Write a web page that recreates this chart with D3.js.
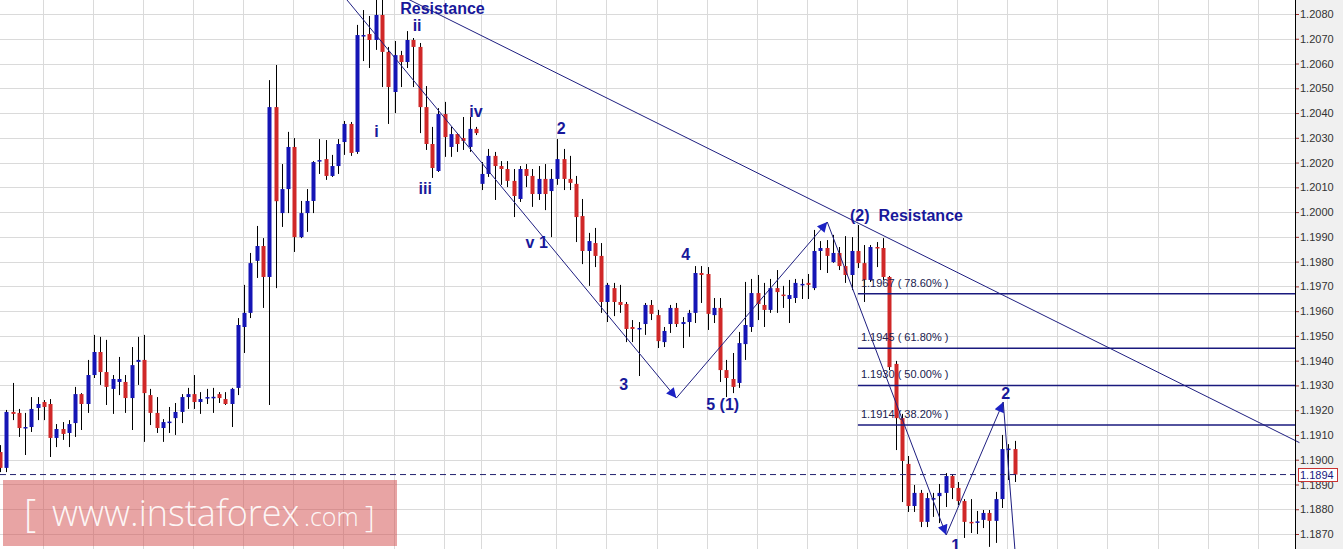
<!DOCTYPE html>
<html><head><meta charset="utf-8">
<script src="https://cdn.jsdelivr.net/npm/d3@7"></script>
<style>html,body{margin:0;padding:0;background:#fff;overflow:hidden}</style>
</head><body><svg id="chart" width="1343" height="549"></svg>
<script>
// ---------- DATA ----------
const opens = [1.19031,1.18967,1.19193,1.19189,1.19128,1.19132,1.19209,1.19233,1.19225,1.19088,
1.19124,1.19108,1.19148,1.19265,1.19225,1.19342,1.19435,1.19354,1.19286,1.19314,
1.19314,1.19249,1.19395,1.19403,1.19261,1.19189,1.19128,1.19152,1.19168,1.19193,
1.19253,1.19265,1.19233,1.19251,1.19253,1.19265,1.19245,1.19225,1.19290,1.19536,
1.19593,1.19803,1.19863,1.19738,1.20424,1.19996,1.20093,1.20263,1.19899,1.19996,
1.20045,1.20208,1.20214,1.20146,1.20186,1.20283,1.20356,1.20243,1.20713,1.20719,
1.20695,1.20796,1.20647,1.20485,1.20634,1.20606,1.20695,1.20667,1.20424,1.20275,
1.20166,1.20396,1.20263,1.20315,1.20299,1.20263,1.20336,1.20114,1.20154,1.20227,
1.20186,1.20174,1.20126,1.20053,1.20174,1.20146,1.20073,1.20134,1.20085,1.20134,
1.20214,1.20134,1.20114,1.19984,1.19843,1.19875,1.19823,1.19637,1.19693,1.19637,
1.19629,1.19536,1.19528,1.19548,1.19625,1.19584,1.19475,1.19548,1.19613,1.19548,
1.19556,1.19593,1.19754,1.19750,1.19584,1.19613,1.19362,1.19326,1.19310,1.19467,
1.19536,1.19673,1.19625,1.19605,1.19693,1.19667,1.19649,1.19653,1.19708,1.19714,
1.19693,1.19843,1.19855,1.19798,1.19835,1.19782,1.19746,1.19843,1.19794,1.19726,
1.19859,1.19855,1.19738,1.19387,1.19168,1.18983,1.18813,1.18866,1.18749,1.18843,
1.18853,1.18866,1.18934,1.18886,1.18833,1.18749,1.18749,1.18757,1.18785,1.18753,
1.18841,1.19043,1.19043];
const highs = [1.19059,1.19201,1.19310,1.19205,1.19189,1.19253,1.19253,1.19241,1.19245,1.19144,
1.19152,1.19160,1.19294,1.19269,1.19403,1.19504,1.19496,1.19484,1.19342,1.19415,
1.19342,1.19455,1.19496,1.19504,1.19286,1.19253,1.19164,1.19213,1.19229,1.19265,
1.19290,1.19342,1.19273,1.19286,1.19290,1.19273,1.19273,1.19290,1.19572,1.19706,
1.19835,1.19944,1.19895,1.20533,1.20594,1.20194,1.20324,1.20299,1.20045,1.20093,
1.20206,1.20295,1.20291,1.20231,1.20295,1.20368,1.20364,1.20756,1.20816,1.20792,
1.20870,1.20880,1.20667,1.20691,1.20651,1.20731,1.20703,1.20683,1.20509,1.20344,
1.20420,1.20445,1.20344,1.20319,1.20384,1.20384,1.20344,1.20202,1.20255,1.20243,
1.20206,1.20206,1.20174,1.20186,1.20194,1.20174,1.20186,1.20194,1.20174,1.20295,
1.20255,1.20227,1.20146,1.20053,1.19916,1.19936,1.19875,1.19714,1.19714,1.19706,
1.19637,1.19564,1.19556,1.19633,1.19645,1.19605,1.19536,1.19625,1.19633,1.19576,
1.19605,1.19782,1.19782,1.19778,1.19653,1.19653,1.19403,1.19431,1.19516,1.19718,
1.19730,1.19746,1.19714,1.19730,1.19766,1.19702,1.19726,1.19730,1.19730,1.19750,
1.19928,1.19883,1.19887,1.19908,1.19859,1.19903,1.19899,1.19948,1.19867,1.19867,
1.19879,1.19895,1.19742,1.19399,1.19185,1.19015,1.18898,1.18878,1.18866,1.18866,
1.18902,1.18946,1.18942,1.18910,1.18841,1.18841,1.18793,1.18797,1.18797,1.18870,
1.19100,1.19063,1.19076];
const lows = [1.18950,1.18950,1.19160,1.19092,1.19019,1.19112,1.19160,1.19160,1.19011,1.19051,
1.19080,1.19051,1.19092,1.19120,1.19189,1.19330,1.19302,1.19221,1.19185,1.19261,
1.19189,1.19120,1.19302,1.19072,1.19140,1.19108,1.19072,1.19108,1.19100,1.19148,
1.19205,1.19205,1.19185,1.19225,1.19189,1.19229,1.19221,1.19132,1.19261,1.19431,
1.19572,1.19734,1.19613,1.19221,1.19693,1.19940,1.19996,1.19839,1.19895,1.19920,
1.19996,1.20154,1.20130,1.20142,1.20154,1.20231,1.20227,1.20235,1.20610,1.20582,
1.20655,1.20505,1.20356,1.20400,1.20505,1.20582,1.20505,1.20319,1.20251,1.20138,
1.20162,1.20223,1.20223,1.20243,1.20251,1.20243,1.20311,1.20089,1.20142,1.20049,
1.20110,1.20101,1.19980,1.20041,1.20101,1.20021,1.20049,1.20008,1.19899,1.20110,
1.20089,1.20089,1.19879,1.19790,1.19702,1.19778,1.19593,1.19556,1.19580,1.19593,
1.19475,1.19475,1.19338,1.19504,1.19564,1.19451,1.19455,1.19512,1.19536,1.19451,
1.19496,1.19552,1.19633,1.19524,1.19552,1.19314,1.19253,1.19269,1.19290,1.19403,
1.19516,1.19564,1.19536,1.19593,1.19593,1.19613,1.19552,1.19633,1.19649,1.19649,
1.19685,1.19766,1.19754,1.19795,1.19766,1.19714,1.19685,1.19774,1.19637,1.19718,
1.19778,1.19726,1.19362,1.19039,1.18829,1.18789,1.18789,1.18728,1.18728,1.18769,
1.18744,1.18809,1.18841,1.18817,1.18684,1.18704,1.18700,1.18724,1.18648,1.18664,
1.18805,1.18918,1.18910];
const closes = [1.18967,1.19193,1.19185,1.19128,1.19132,1.19205,1.19225,1.19213,1.19088,1.19124,
1.19104,1.19144,1.19265,1.19225,1.19342,1.19435,1.19354,1.19294,1.19326,1.19326,
1.19249,1.19382,1.19403,1.19269,1.19189,1.19128,1.19152,1.19154,1.19193,1.19253,
1.19265,1.19233,1.19245,1.19253,1.19254,1.19249,1.19225,1.19286,1.19544,1.19593,
1.19794,1.19863,1.19738,1.20424,1.20044,1.20093,1.20263,1.19899,1.19996,1.20045,
1.20202,1.20210,1.20146,1.20186,1.20275,1.20356,1.20239,1.20715,1.20715,1.20695,
1.20796,1.20647,1.20505,1.20634,1.20606,1.20695,1.20667,1.20424,1.20275,1.20178,
1.20396,1.20303,1.20315,1.20275,1.20287,1.20336,1.20319,1.20154,1.20227,1.20186,
1.20174,1.20126,1.20065,1.20174,1.20146,1.20073,1.20134,1.20073,1.20134,1.20214,
1.20134,1.20118,1.19980,1.19843,1.19883,1.19823,1.19637,1.19706,1.19637,1.19625,
1.19528,1.19528,1.19532,1.19625,1.19589,1.19479,1.19520,1.19613,1.19548,1.19556,
1.19593,1.19754,1.19746,1.19589,1.19613,1.19362,1.19330,1.19294,1.19471,1.19544,
1.19673,1.19629,1.19605,1.19693,1.19677,1.19664,1.19665,1.19714,1.19710,1.19706,
1.19843,1.19855,1.19823,1.19835,1.19782,1.19746,1.19843,1.19794,1.19726,1.19859,
1.19855,1.19738,1.19374,1.19168,1.18995,1.18813,1.18866,1.18749,1.18845,1.18845,
1.18866,1.18934,1.18886,1.18833,1.18749,1.18747,1.18751,1.18785,1.18753,1.18841,
1.19043,1.19045,1.18940];

const tickLabels = ["1.2080","1.2070","1.2060","1.2050","1.2040","1.2030","1.2020","1.2010",
"1.2000","1.1990","1.1980","1.1970","1.1960","1.1950","1.1940","1.1930","1.1920","1.1910",
"1.1900","1.1890","1.1880","1.1870"];
const gridIdx = [7,15,23,31,39,47,55,63,71,77,89,97,105,113,121,129,137,145,153,161,169,177,185,193,201];
const lastPrice = 1.1894;

const fibLevels = [1.1967, 1.1945, 1.1930, 1.1914];
const fibPct = ["78.60%", "61.80%", "50.00%", "38.20%"];
const fibStartIdx = 137.0;

const waveIdx   = [54.35, 108.0, 132.1, 151.1, 160.2, 162.1];
const wavePrice = [1.20889, 1.19249, 1.19960, 1.18696, 1.19233, 1.18627];
const waveHead  = [true, true, true, true, false];

const resistIdx   = [63.5, 207.5];
const resistPrice = [1.20881, 1.19069];

const labelText  = ["Resistance","ii","i","iii","iv","2","v 1","4","3","5 (1)","(2)  Resistance","2","1"];
const labelIdx   = [70.66, 66.6, 60.1, 67.9, 76.0, 89.6, 85.7, 109.5, 99.6, 115.4, 144.75, 160.6, 152.6];
const labelPrice = [1.20800,1.20731,1.20303,1.20073,1.20384,1.20315,1.19855,1.19807,1.19282,1.19201,1.19964,1.19245,1.18633];

// ---------- CHART ----------
const W = 1343, H = 549, PR = 1295;
const svg = d3.select("#chart");
const x = d3.scaleLinear().domain([0, 162]).range([0, 1014.5]);
const y = d3.scaleLinear().domain([1.1870, 1.2080]).range([534, 14]);
const tickVals = tickLabels.map(Number);

svg.append("rect").attr("width", W).attr("height", H).attr("fill", "#fff");
svg.append("rect").attr("x", PR).attr("y", 0).attr("width", W - PR).attr("height", H).attr("fill", "#f0f0f0");

svg.append("defs").append("clipPath").attr("id", "clip")
  .append("rect").attr("x", 0).attr("y", 0).attr("width", PR).attr("height", H);
svg.select("defs").append("marker").attr("id", "arrow")
  .attr("viewBox", "0 0 10 10").attr("refX", 10).attr("refY", 5)
  .attr("markerWidth", 13).attr("markerHeight", 10).attr("markerUnits", "userSpaceOnUse")
  .attr("orient", "auto")
  .append("path").attr("d", "M0,0 L10,5 L0,10 Z").attr("fill", "#1c22c4");

const plot = svg.append("g").attr("clip-path", "url(#clip)");

// grid
plot.append("g").selectAll("line").data(tickVals).join("line")
  .attr("x1", 0).attr("x2", PR)
  .attr("y1", d => Math.round(y(d)) + 0.5).attr("y2", d => Math.round(y(d)) + 0.5)
  .attr("stroke", "#dadada").attr("stroke-width", 1);
plot.append("g").selectAll("line").data(gridIdx).join("line")
  .attr("x1", d => Math.round(x(d)) - 0.5).attr("x2", d => Math.round(x(d)) - 0.5)
  .attr("y1", 0).attr("y2", H)
  .attr("stroke", "#dadada").attr("stroke-width", 1);

// watermark box
const wm = plot.append("g");
wm.append("rect").attr("x", 3).attr("y", 480).attr("width", 394).attr("height", 66)
  .attr("fill", "rgba(209,73,73,0.5)");

// candles
const idx = d3.range(opens.length);
const blue = "#1515b5", red = "#d02828";
plot.append("g").selectAll("line").data(idx).join("line")
  .attr("x1", i => Math.round(x(i)) + 0.5).attr("x2", i => Math.round(x(i)) + 0.5)
  .attr("y1", i => y(highs[i])).attr("y2", i => y(lows[i]))
  .attr("stroke", "#000").attr("stroke-width", 1);
plot.append("g").selectAll("rect").data(idx).join("rect")
  .attr("x", i => Math.round(x(i)) - 1.5)
  .attr("width", 4)
  .attr("y", i => y(Math.max(opens[i], closes[i])))
  .attr("height", i => Math.max(1.5, Math.abs(y(opens[i]) - y(closes[i]))))
  .attr("fill", i => closes[i] >= opens[i] ? blue : red);

// last price dashed line
plot.append("line").attr("x1", 0).attr("x2", PR)
  .attr("y1", y(lastPrice)).attr("y2", y(lastPrice))
  .attr("stroke", "#20206e").attr("stroke-width", 1).attr("stroke-dasharray", "6,4");

// fib levels
const fg = svg.append("g");
fg.selectAll("line").data(fibLevels).join("line")
  .attr("x1", x(fibStartIdx)).attr("x2", PR)
  .attr("y1", d => y(d)).attr("y2", d => y(d))
  .attr("stroke", "#1a1a7e").attr("stroke-width", 1.5);
fg.selectAll("text").data(fibLevels).join("text")
  .attr("x", x(fibStartIdx) + 3).attr("y", d => y(d) - 7)
  .attr("font-family", "Arial, 'Liberation Sans', sans-serif").attr("font-size", 11)
  .attr("fill", "#20204e").style("white-space", "pre")
  .text((d, i) => d.toFixed(4) + " ( " + fibPct[i] + " )");

// resistance line
svg.append("line")
  .attr("x1", x(resistIdx[0])).attr("y1", y(resistPrice[0]))
  .attr("x2", x(resistIdx[1])).attr("y2", y(resistPrice[1]))
  .attr("stroke", "#1e1e80").attr("stroke-width", 1);

// wave path arrows
const wg = plot.append("g");
for (let k = 0; k < waveIdx.length - 1; k++) {
  const ln = wg.append("line")
    .attr("x1", x(waveIdx[k])).attr("y1", y(wavePrice[k]))
    .attr("x2", x(waveIdx[k + 1])).attr("y2", y(wavePrice[k + 1]))
    .attr("stroke", "#1e1e80").attr("stroke-width", 1);
  if (waveHead[k]) ln.attr("marker-end", "url(#arrow)");
}

// wave labels
svg.append("g").selectAll("text").data(labelText).join("text")
  .attr("x", (d, i) => x(labelIdx[i])).attr("y", (d, i) => y(labelPrice[i]))
  .attr("text-anchor", "middle").style("white-space", "pre")
  .attr("font-family", "Arial, 'Liberation Sans', sans-serif").attr("font-weight", "bold")
  .attr("font-size", 16).attr("fill", "#18189a")
  .text(d => d);

// watermark text
const wt = svg.append("g").attr("fill", "rgba(255,255,255,0.92)")
  .attr("font-family", "'Open Sans', Lato, sans-serif").attr("font-weight", 300);
wt.append("text").attr("x", 24).attr("y", 527).attr("font-size", 38).text("[");
wt.append("text").attr("x", 52).attr("y", 526).attr("font-size", 36).text("www.instaforex");
wt.append("text").attr("x", 304).attr("y", 526).attr("font-size", 25).text(".com");
wt.append("text").attr("x", 365).attr("y", 527).attr("font-size", 30).text("]");

// y axis
const ax = svg.append("g").attr("transform", `translate(${PR},0)`)
  .call(d3.axisRight(y).tickValues(tickVals).tickFormat(d3.format(".4f")).tickSize(4).tickSizeOuter(0).tickPadding(1));
ax.select(".domain").remove();
ax.selectAll(".tick line").attr("stroke", "#a03030");
ax.selectAll(".tick text").attr("font-family", "Arial, 'Liberation Sans', sans-serif")
  .attr("font-size", 11).attr("fill", "#333");
svg.append("line").attr("x1", PR + 0.5).attr("x2", PR + 0.5).attr("y1", 0).attr("y2", H)
  .attr("stroke", "#000").attr("stroke-width", 1);

// last price box
const pb = svg.append("g");
pb.append("rect").attr("x", PR + 3.5).attr("y", Math.round(y(lastPrice)) - 6.5)
  .attr("width", 39).attr("height", 13).attr("fill", "#fff").attr("stroke", "#c83232");
pb.append("text").attr("x", PR + 5).attr("y", y(lastPrice) + 4)
  .attr("font-family", "Arial, 'Liberation Sans', sans-serif").attr("font-size", 11)
  .attr("fill", "#1a1a80").text(lastPrice.toFixed(4));
</script></body></html>
